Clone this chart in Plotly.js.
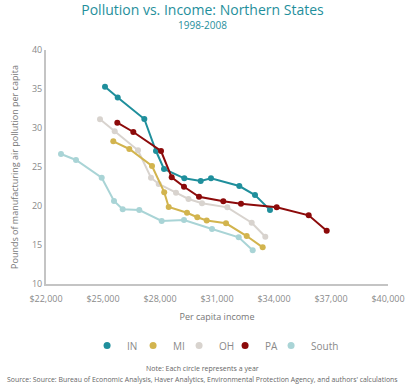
<!DOCTYPE html>
<html><head><meta charset="utf-8">
<script src="https://cdn.plot.ly/plotly-3.0.1.min.js"></script>
<style>html,body{margin:0;padding:0;background:#fff}#chart{width:405px;height:384px}</style>
</head><body><div id="chart"></div>
<script>
const seriesNames = ["IN", "MI", "OH", "PA", "South"];
const seriesColors = ["#1f8f9c", "#d2b44e", "#d8d3ce", "#8c0a0a", "#a9d4d6"];
const inX = [25105, 25774, 27174, 27789, 28210, 29279, 30142, 30684, 32174, 33000, 33789];
const inY = [35.3, 33.9, 31.15, 27.05, 24.74, 23.55, 23.2, 23.55, 22.56, 21.4, 19.5];
const miX = [25542, 26384, 27579, 28221, 28458, 29421, 29963, 30458, 31474, 32563, 33405];
const miY = [28.29, 27.31, 25.13, 21.77, 19.87, 19.14, 18.56, 18.14, 17.78, 16.15, 14.7];
const ohX = [24842, 25616, 26842, 27526, 27932, 28842, 29500, 30211, 31542, 32826, 33542];
const ohY = [31.12, 29.58, 27.14, 23.63, 22.82, 21.71, 20.9, 20.35, 19.83, 17.86, 16.06];
const paX = [25753, 26595, 28053, 28616, 29263, 30053, 31332, 32263, 34142, 35826, 36774];
const paY = [30.68, 29.49, 27.05, 23.68, 22.47, 21.19, 20.6, 20.3, 19.83, 18.8, 16.83];
const southX = [22789, 23579, 24932, 25579, 26037, 26910, 28089, 29263, 30737, 32142, 32879];
const southY = [26.67, 25.9, 23.63, 20.64, 19.58, 19.49, 18.08, 18.21, 17.05, 15.99, 14.32];
const xTicks = [22000, 25000, 28000, 31000, 34000, 37000, 40000];
const yTicks = [10, 15, 20, 25, 30, 35, 40];

const xs = [inX, miX, ohX, paX, southX];
const ys = [inY, miY, ohY, paY, southY];
const order = [4, 2, 1, 0, 3];
const traces = [];
order.forEach(i => {
  traces.push({x: xs[i], y: ys[i], mode: 'lines+markers', name: seriesNames[i], showlegend: false,
    line: {color: seriesColors[i], width: 2}, marker: {color: seriesColors[i], size: 6}});
});
seriesNames.forEach((n, i) => {
  traces.push({x: [null], y: [null], mode: 'markers', name: n, showlegend: true,
    marker: {color: seriesColors[i], size: 7}});
});
// spacer entry so the last real label is not clipped
traces.push({x: [null], y: [null], mode: 'markers', name: ' ', showlegend: true,
  marker: {color: 'rgba(0,0,0,0)', size: 1}});
const font = "Open Sans, Noto Sans, sans-serif";
const layout = {
  width: 405, height: 384,
  margin: {l: 46, r: 17, t: 50, b: 100},
  paper_bgcolor: '#fff', plot_bgcolor: '#fff',
  font: {family: font, color: '#888', size: 9},
  title: {text: "Pollution vs. Income: Northern States",
    font: {family: font, size: 14, color: '#1f8f9c'}, x: 0.5, xanchor: 'center', xref: 'container',
    yref: 'container', y: 0.974, yanchor: 'middle'},
  xaxis: {range: [22000, 40000], tickvals: xTicks, tickformat: '$,.0f', showgrid: false, zeroline: false,
    showline: true, linecolor: '#c4c4c4', linewidth: 2, ticks: '', ticklabelstandoff: 5, tickfont: {size: 9, color: '#8a8a8a'},
    title: {text: 'Per capita income', font: {size: 9, color: '#777'}, standoff: 10}},
  yaxis: {range: [10, 40], tickvals: yTicks, showgrid: false, zeroline: false,
    showline: true, linecolor: '#c4c4c4', linewidth: 2, ticks: '', tickfont: {size: 9, color: '#8a8a8a'},
    title: {text: 'Pounds of manufacturing air pollution per capita', font: {size: 9, color: '#777'}, standoff: 12}},
  legend: {orientation: 'h', x: 0.215, xanchor: 'left', xref: 'container', y: 0.1, yref: 'container', yanchor: 'middle',
    font: {size: 10, color: '#8a8a8a'}, itemwidth: 30, entrywidth: 1, entrywidthmode: 'pixels'},
  annotations: [
    {text: '1998-2008', xref: 'paper', yref: 'paper', x: 0.4576, y: 1.105,
      showarrow: false, font: {size: 10, color: '#1f8f9c'}, xanchor: 'center', yanchor: 'middle'},
    {text: 'Note: Each circle represents a year', xref: 'paper', yref: 'paper', x: 0.4576, y: -0.359,
      showarrow: false, font: {size: 7, color: '#666'}, xanchor: 'center', yanchor: 'middle'},
    {text: "Source: Source: Bureau of Economic Analysis, Haver Analytics, Environmental Protection Agency, and authors' calculations",
      xref: 'paper', yref: 'paper', x: 0.4576, y: -0.41, showarrow: false, font: {size: 6.9, color: '#666'}, xanchor: 'center', yanchor: 'middle'}
  ]
};
Plotly.newPlot('chart', traces, layout, {displayModeBar: false, staticPlot: true});
</script></body></html>
